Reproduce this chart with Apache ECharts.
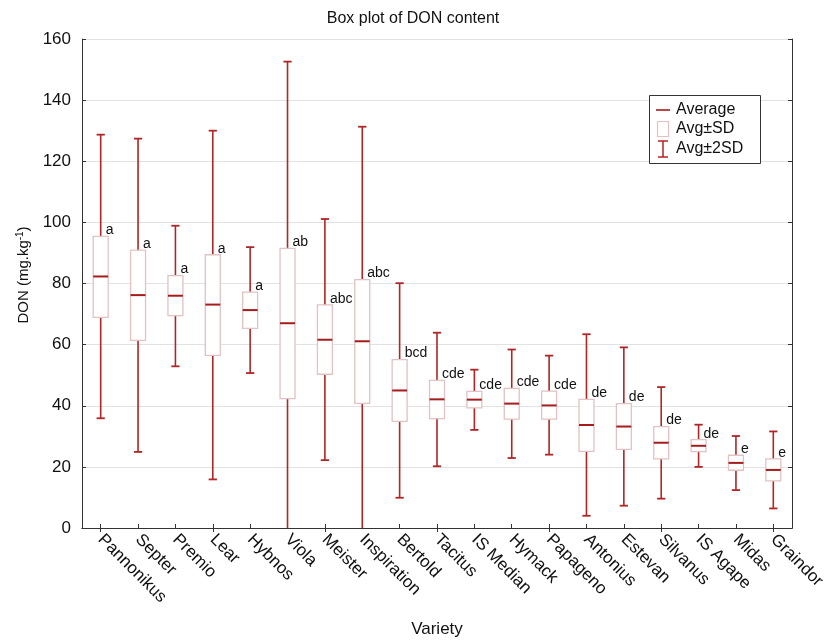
<!DOCTYPE html>
<html>
<head>
<meta charset="utf-8">
<script src="https://cdn.jsdelivr.net/npm/echarts@6/dist/echarts.min.js"></script>
<style>
html,body{margin:0;padding:0;background:#fff;}
#chart{width:826px;height:644px;}
</style>
</head>
<body>
<div id="chart"></div>
<script>
const categories = ["Pannonikus","Septer","Premio","Lear","Hybnos","Viola","Meister","Inspiration","Bertold","Tacitus","IS Median","Hymack","Papageno","Antonius","Estevan","Silvanus","IS Agape","Midas","Graindor"];
const means     = [82.3, 76.2, 76.0, 73.1, 71.3, 67.0, 61.6, 61.1, 45.0, 42.1, 42.0, 40.7, 40.1, 33.7, 33.2, 27.9, 26.9, 21.3, 19.0];
const boxLow    = [68.9, 61.4, 69.5, 56.5, 65.3, 42.3, 50.3, 40.8, 34.9, 35.8, 39.3, 35.6, 35.6, 25.1, 25.7, 22.6, 25.0, 18.9, 15.4];
const boxHigh   = [95.4, 90.9, 82.6, 89.4, 77.2, 91.5, 73.0, 81.3, 55.1, 48.3, 44.7, 45.7, 44.8, 42.1, 40.7, 33.2, 28.9, 23.8, 22.6];
const whiskLow  = [35.9, 24.9, 52.9, 15.9, 50.7, -18.6, 22.2, -9.1, 9.9, 20.2, 32.1, 22.9, 24.0, 4.0, 7.3, 9.6, 20.0, 12.4, 6.4];
const whiskHigh = [128.7, 127.4, 98.9, 130.0, 91.9, 152.6, 101.1, 131.3, 80.1, 63.9, 51.8, 58.4, 56.4, 63.4, 59.1, 46.1, 33.8, 30.1, 31.6];
const letters   = ["a","a","a","a","a","ab","abc","abc","bcd","cde","cde","cde","cde","de","de","de","de","e","e"];
const yTicks = [0, 20, 40, 60, 80, 100, 120, 140, 160];

const FONT = '"Liberation Sans", Arial, sans-serif';
const WHISK = '#b02525';
const MEAN = '#a51c1c';
const BOXC = '#e2c2c2';

const rows = categories.map((c, i) => [i, whiskLow[i], boxLow[i], means[i], boxHigh[i], whiskHigh[i]]);

const chart = echarts.init(document.getElementById('chart'), null, {renderer: 'canvas'});

const axisLineStyle = {color: '#333', width: 1};

const option = {
  backgroundColor: '#fff',
  animation: false,
  title: {
    text: 'Box plot of DON content',
    left: 'center', top: 6,
    textStyle: {fontFamily: FONT, fontSize: 16, fontWeight: 'normal', color: '#111'}
  },
  grid: {left: 82, right: 34, top: 39, bottom: 116, containLabel: false, outerBoundsMode: 'none'},
  xAxis: [{
    type: 'category', data: categories, position: 'bottom', boundaryGap: true,
    axisLine: {show: true, lineStyle: axisLineStyle},
    axisTick: {show: true, inside: true, alignWithLabel: true, length: 4, lineStyle: {color: '#333'}},
    axisLabel: {rotate: -45, fontFamily: FONT, fontSize: 17, color: '#111', margin: 9, interval: 0},
    name: 'Variety', nameLocation: 'middle', nameGap: 93,
    nameTextStyle: {fontFamily: FONT, fontSize: 17, color: '#111'},
    splitLine: {show: false}
  }, {
    type: 'category', data: categories, position: 'top', boundaryGap: true,
    axisLine: {show: true, lineStyle: axisLineStyle},
    axisTick: {show: true, inside: true, alignWithLabel: true, length: 4, lineStyle: {color: '#333'}},
    axisLabel: {show: false},
    splitLine: {show: false}
  }],
  yAxis: [{
    type: 'value', min: yTicks[0], max: yTicks[yTicks.length - 1], interval: 20, position: 'left',
    axisLine: {show: true, lineStyle: axisLineStyle},
    axisTick: {show: true, inside: true, length: 4, lineStyle: {color: '#333'}},
    axisLabel: {fontFamily: FONT, fontSize: 17, color: '#111', margin: 11},
    splitLine: {show: true, lineStyle: {color: '#e2e2e2', width: 1}},
    name: 'DON (mg.kg{sup|-1})', nameLocation: 'middle', nameGap: 50, nameRotate: 90,
    nameTextStyle: {fontFamily: FONT, fontSize: 15, color: '#111', padding: [0, 0, 0, 17],
      rich: {sup: {fontFamily: FONT, fontSize: 10, color: '#111', verticalAlign: 'top', padding: [0, 0, 7, 0]}}}
  }, {
    type: 'value', min: yTicks[0], max: yTicks[yTicks.length - 1], interval: 20, position: 'right',
    axisLine: {show: true, lineStyle: axisLineStyle},
    axisTick: {show: true, inside: true, length: 4, lineStyle: {color: '#333'}},
    axisLabel: {show: false},
    splitLine: {show: false}
  }],
  series: [{
    type: 'custom',
    xAxisIndex: 0, yAxisIndex: 0,
    clip: true,
    data: rows,
    encode: {x: 0, y: [1, 2, 3, 4, 5]},
    renderItem: function (params, api) {
      const i = api.value(0);
      const band = api.size([1, 0])[0];
      const half = band * 0.2;
      const cap = band * 0.11;
      const pWL = api.coord([i, api.value(1)]);
      const pBL = api.coord([i, api.value(2)]);
      const pM  = api.coord([i, api.value(3)]);
      const pBH = api.coord([i, api.value(4)]);
      const pWH = api.coord([i, api.value(5)]);
      const x = pM[0];
      return {
        type: 'group',
        children: [
          {type: 'line', shape: {x1: x, y1: pWL[1], x2: x, y2: pWH[1]}, style: {stroke: WHISK, lineWidth: 1.6}},
          {type: 'line', shape: {x1: x - cap, y1: pWH[1], x2: x + cap, y2: pWH[1]}, style: {stroke: WHISK, lineWidth: 1.8}},
          {type: 'line', shape: {x1: x - cap, y1: pWL[1], x2: x + cap, y2: pWL[1]}, style: {stroke: WHISK, lineWidth: 1.8}},
          {type: 'rect', shape: {x: x - half, y: pBH[1], width: half * 2, height: pBL[1] - pBH[1]}, style: {fill: '#fff', stroke: BOXC, lineWidth: 1.3}},
          {type: 'line', shape: {x1: x - half, y1: pM[1], x2: x + half, y2: pM[1]}, style: {stroke: MEAN, lineWidth: 2}},
          {type: 'text', x: x + 5, y: pBH[1] + 1, style: {text: letters[i], fill: '#111', fontSize: 14, fontFamily: FONT, align: 'left', verticalAlign: 'bottom'}}
        ]
      };
    }
  }],
  graphic: [
    {type: 'rect', shape: {x: 649.5, y: 95.5, width: 111, height: 68}, style: {fill: '#fff', stroke: '#333', lineWidth: 1}, z: 100},
    {type: 'line', shape: {x1: 656, y1: 110, x2: 670, y2: 110}, style: {stroke: MEAN, lineWidth: 1.6}, z: 101},
    {type: 'text', x: 676, y: 110, style: {text: 'Average', fontSize: 16, fontFamily: FONT, fill: '#111', verticalAlign: 'middle'}, z: 101},
    {type: 'rect', shape: {x: 657.5, y: 121.5, width: 11, height: 15}, style: {fill: '#fff', stroke: BOXC, lineWidth: 1.2}, z: 101},
    {type: 'text', x: 676, y: 129, style: {text: 'Avg±SD', fontSize: 16, fontFamily: FONT, fill: '#111', verticalAlign: 'middle'}, z: 101},
    {type: 'line', shape: {x1: 663, y1: 141, x2: 663, y2: 157}, style: {stroke: WHISK, lineWidth: 1.5}, z: 101},
    {type: 'line', shape: {x1: 658, y1: 141, x2: 668, y2: 141}, style: {stroke: WHISK, lineWidth: 1.5}, z: 101},
    {type: 'line', shape: {x1: 658, y1: 157, x2: 668, y2: 157}, style: {stroke: WHISK, lineWidth: 1.5}, z: 101},
    {type: 'text', x: 676, y: 149, style: {text: 'Avg±2SD', fontSize: 16, fontFamily: FONT, fill: '#111', verticalAlign: 'middle'}, z: 101}
  ]
};
chart.setOption(option);
</script>
</body>
</html>
